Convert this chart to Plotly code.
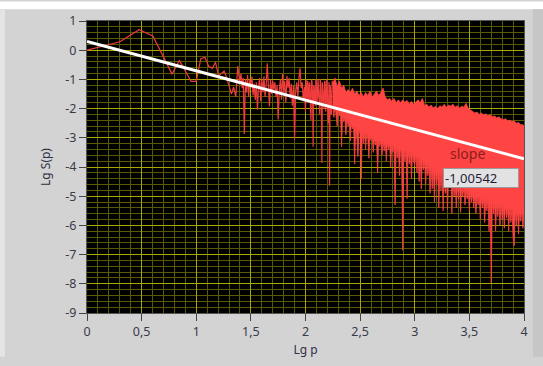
import plotly.graph_objects as go

# ---------------- data ----------------
# noisy spectrum, low / mid frequency part drawn as a line (lg p, lg S)
line_pts = [
    (0.000, 0.00), (0.301, 0.29), (0.477, 0.70), (0.602, 0.49), (0.699, -0.22),
    (0.778, -0.82), (0.845, -0.35), (0.903, -0.73), (0.954, -1.07), (1.000, -1.07),
    (1.041, -0.30), (1.079, -0.24), (1.114, -0.55), (1.146, -0.62), (1.176, -0.41),
    (1.204, -0.88), (1.230, -0.78), (1.255, -0.71), (1.279, -0.95), (1.301, -1.21),
    (1.322, -1.50), (1.342, -1.26), (1.362, -1.60), (1.380, -0.54), (1.398, -1.10),
    (1.41, -0.80), (1.42, -1.30), (1.43, -0.95), (1.44, -2.87), (1.45, -1.00),
    (1.46, -1.45), (1.47, -0.85), (1.48, -1.60), (1.49, -1.00), (1.50, -1.20),
    (1.51, -0.90), (1.52, -1.55), (1.53, -1.15), (1.54, -1.70), (1.55, -1.10),
    (1.56, -2.04), (1.57, -1.30), (1.58, -0.95), (1.59, -1.75), (1.60, -1.00),
    (1.61, -1.45), (1.62, -0.90), (1.63, -1.60), (1.64, -1.20), (1.65, -0.45),
    (1.66, -1.30), (1.67, -1.93), (1.68, -1.00), (1.69, -1.50), (1.70, -1.05),
    (1.71, -1.35), (1.72, -1.10), (1.73, -1.60), (1.74, -1.20), (1.75, -2.37),
    (1.76, -1.40), (1.77, -1.00), (1.78, -1.70), (1.79, -0.80), (1.80, -1.45),
    (1.81, -1.05), (1.82, -1.80), (1.83, -0.88), (1.84, -1.30), (1.85, -0.95),
    (1.86, -1.65), (1.87, -1.15), (1.88, -1.90), (1.89, -1.20), (1.90, -3.03),
    (1.91, -1.40), (1.92, -1.10), (1.93, -1.60), (1.94, -0.95), (1.95, -0.62),
    (1.96, -1.30), (1.97, -1.10), (1.98, -1.75), (1.99, -1.25), (2.00, -2.10),
    (2.005, -1.00), (2.01, -1.30), (2.015, -1.70), (2.02, -1.05), (2.025, -1.50),
    (2.03, -1.80), (2.035, -1.10), (2.04, -1.20), (2.045, -1.90), (2.05, -2.40),
    (2.055, -1.00), (2.06, -1.10), (2.065, -1.60), (2.07, -3.31), (2.075, -1.20),
    (2.08, -1.25), (2.085, -1.70), (2.09, -1.90), (2.095, -1.00), (2.10, -1.05),
    (2.105, -1.80), (2.11, -1.60), (2.115, -1.00), (2.12, -1.30), (2.125, -2.00),
    (2.13, -2.20), (2.135, -0.99), (2.14, -1.15), (2.145, -1.90), (2.15, -3.86),
    (2.155, -1.10), (2.16, -1.40), (2.165, -1.80), (2.17, -2.00), (2.175, -1.05),
    (2.18, -1.10), (2.185, -2.10), (2.19, -1.80), (2.195, -1.00), (2.20, -1.35),
    (2.205, -2.30), (2.21, -2.50), (2.215, -1.10), (2.22, -4.64), (2.225, -1.20),
    (2.23, -1.30), (2.235, -2.20), (2.24, -2.10), (2.245, -1.05), (2.25, -1.20),
]

# dense high-frequency part: upper envelope of the noise
upper_pts = [
    (2.25, -1.15), (2.27, -0.95), (2.29, -1.25), (2.31, -1.05), (2.33, -1.30),
    (2.35, -1.20), (2.37, -1.45), (2.39, -1.35), (2.41, -1.45), (2.43, -1.30),
    (2.45, -1.50), (2.47, -1.40), (2.49, -1.55), (2.51, -1.45), (2.53, -1.60),
    (2.55, -1.45), (2.57, -1.55), (2.59, -1.40), (2.61, -1.60), (2.63, -1.50),
    (2.65, -1.40), (2.67, -1.55), (2.69, -1.45), (2.71, -1.30), (2.73, -1.60),
    (2.75, -1.70), (2.77, -1.65), (2.79, -1.75), (2.81, -1.65), (2.83, -1.80),
    (2.85, -1.70), (2.87, -1.80), (2.89, -1.70), (2.91, -1.78), (2.93, -1.72),
    (2.95, -1.85), (2.97, -1.75), (2.99, -1.85), (3.01, -1.78), (3.03, -1.70),
    (3.05, -1.80), (3.07, -1.65), (3.09, -1.90), (3.11, -1.85), (3.13, -1.95),
    (3.15, -1.88), (3.17, -1.98), (3.19, -1.92), (3.21, -2.00), (3.23, -1.90),
    (3.25, -1.95), (3.27, -1.85), (3.29, -1.95), (3.31, -1.88), (3.33, -1.92),
    (3.35, -1.85), (3.37, -1.95), (3.39, -1.90), (3.41, -1.98), (3.43, -1.92),
    (3.45, -1.95), (3.47, -1.82), (3.49, -2.00), (3.51, -2.05), (3.53, -2.10),
    (3.55, -2.15), (3.57, -2.12), (3.59, -2.20), (3.61, -2.15), (3.63, -2.22),
    (3.65, -2.18), (3.67, -2.25), (3.69, -2.20), (3.71, -2.28), (3.73, -2.25),
    (3.75, -2.32), (3.77, -2.28), (3.79, -2.35), (3.81, -2.38), (3.83, -2.35),
    (3.85, -2.42), (3.87, -2.40), (3.89, -2.45), (3.91, -2.42), (3.93, -2.50),
    (3.95, -2.48), (3.97, -2.55), (3.99, -2.55), (4.00, -2.60),
]

# dense high-frequency part: lower envelope of the noise (with the dips)
lower_pts = [
    (2.25, -1.85), (2.26, -2.30), (2.27, -1.90), (2.28, -2.10), (2.29, -2.60),
    (2.30, -2.00), (2.31, -2.25), (2.32, -2.10), (2.33, -3.31), (2.34, -2.20),
    (2.35, -2.45), (2.36, -2.30), (2.37, -2.90), (2.38, -2.35), (2.39, -2.60),
    (2.40, -2.40), (2.41, -3.10), (2.42, -2.50), (2.43, -2.70), (2.44, -2.55),
    (2.45, -3.90), (2.46, -2.60), (2.47, -3.00), (2.48, -3.64), (2.49, -2.70),
    (2.50, -2.90), (2.51, -4.41), (2.52, -2.75), (2.53, -3.20), (2.54, -2.80),
    (2.55, -3.40), (2.56, -2.85), (2.57, -3.00), (2.58, -3.70), (2.59, -2.90),
    (2.60, -3.10), (2.61, -2.95), (2.62, -3.50), (2.63, -3.00), (2.64, -3.25),
    (2.65, -3.05), (2.66, -4.20), (2.67, -3.05), (2.68, -3.30), (2.69, -3.10),
    (2.70, -3.60), (2.71, -3.10), (2.72, -3.45), (2.73, -3.15), (2.74, -3.80),
    (2.75, -3.15), (2.76, -3.40), (2.77, -3.20), (2.78, -4.00), (2.79, -3.20),
    (2.80, -3.50), (2.81, -3.25), (2.82, -5.30), (2.83, -3.25), (2.84, -3.70),
    (2.85, -3.30), (2.86, -4.30), (2.87, -3.30), (2.88, -3.60), (2.89, -6.85),
    (2.90, -3.35), (2.91, -3.80), (2.92, -3.40), (2.93, -5.08), (2.94, -3.40),
    (2.95, -3.90), (2.96, -3.45), (2.97, -4.40), (2.98, -3.50), (2.99, -3.80),
    (3.00, -3.97), (3.01, -3.55), (3.02, -4.20), (3.03, -3.60), (3.04, -4.50),
    (3.05, -3.65), (3.06, -4.75), (3.07, -3.70), (3.08, -4.10), (3.09, -3.80),
    (3.10, -4.60), (3.11, -3.85), (3.12, -4.30), (3.13, -3.90), (3.14, -4.90),
    (3.15, -3.95), (3.16, -4.75), (3.17, -4.00), (3.18, -5.20), (3.19, -4.05),
    (3.20, -4.60), (3.21, -4.10), (3.22, -5.40), (3.23, -4.15), (3.24, -4.80),
    (3.25, -4.20), (3.26, -5.50), (3.27, -4.25), (3.28, -4.90), (3.29, -4.30),
    (3.30, -5.45), (3.31, -4.35), (3.32, -4.70), (3.33, -4.40), (3.34, -5.60),
    (3.35, -4.45), (3.36, -5.00), (3.37, -4.50), (3.38, -5.40), (3.39, -4.55),
    (3.40, -5.10), (3.41, -4.60), (3.42, -5.55), (3.43, -4.65), (3.44, -5.00),
    (3.45, -4.70), (3.46, -5.30), (3.47, -4.75), (3.48, -5.10), (3.49, -4.80),
    (3.50, -5.50), (3.51, -4.85), (3.52, -5.20), (3.53, -4.90), (3.54, -5.40),
    (3.55, -4.95), (3.56, -5.60), (3.57, -5.00), (3.58, -5.30), (3.59, -5.00),
    (3.60, -5.80), (3.61, -5.05), (3.62, -5.40), (3.63, -5.05), (3.64, -5.90),
    (3.65, -5.10), (3.66, -5.50), (3.67, -5.10), (3.68, -6.20), (3.69, -5.15),
    (3.70, -7.96), (3.71, -5.15), (3.72, -5.60), (3.73, -5.20), (3.74, -6.19),
    (3.75, -5.20), (3.76, -5.70), (3.77, -5.25), (3.78, -6.00), (3.79, -5.25),
    (3.80, -5.80), (3.81, -5.30), (3.82, -6.10), (3.83, -5.30), (3.84, -5.75),
    (3.85, -5.35), (3.86, -6.20), (3.87, -5.35), (3.88, -5.90), (3.89, -5.40),
    (3.90, -6.40), (3.91, -6.70), (3.92, -5.45), (3.93, -6.00), (3.94, -5.45),
    (3.95, -6.30), (3.96, -5.50), (3.97, -5.86), (3.98, -5.50), (3.99, -6.10),
    (4.00, -5.55),
]

# linear fit
fit_x = [0.0, 4.0]
fit_y = [0.30, -3.72]
slope_value = "-1,00542"

x_tickvals = [0, 0.5, 1, 1.5, 2, 2.5, 3, 3.5, 4]
x_ticktext = ["0", "0,5", "1", "1,5", "2", "2,5", "3", "3,5", "4"]
y_tickvals = [1, 0, -1, -2, -3, -4, -5, -6, -7, -8, -9]
y_ticktext = ["1", "0", "-1", "-2", "-3", "-4", "-5", "-6", "-7", "-8", "-9"]

# ---------------- figure ----------------
W, H = 543, 366
ML, MR, MT, MB = 87, 19, 20, 45
PW, PH = W - ML - MR, H - MT - MB


def fx(px):
    return (px - ML) / PW


def fy(py):
    return (H - MB - py) / PH


RED = "#ff4444"
fig = go.Figure()

lx = [p[0] for p in line_pts]
ly = [p[1] for p in line_pts]
fig.add_trace(go.Scatter(x=lx, y=ly, mode="lines",
                         line=dict(color="#f03c3c", width=1.2),
                         hoverinfo="skip", showlegend=False))

ux = [p[0] for p in upper_pts]
uy = [p[1] for p in upper_pts]
bx = [p[0] for p in lower_pts]
by = [p[1] for p in lower_pts]
fig.add_trace(go.Scatter(x=ux + bx[::-1], y=uy + by[::-1], mode="lines",
                         fill="toself", fillcolor=RED,
                         line=dict(color=RED, width=0.8),
                         hoverinfo="skip", showlegend=False))

fig.add_trace(go.Scatter(x=fit_x, y=fit_y, mode="lines",
                         line=dict(color="#ffffff", width=3),
                         hoverinfo="skip", showlegend=False))

tick_font = dict(family="Noto Sans, Open Sans, sans-serif", size=12.5, color="#3a3a48")

fig.update_layout(
    width=W, height=H,
    margin=dict(l=ML, r=MR, t=MT, b=MB, pad=0),
    paper_bgcolor="#d3d3d3",
    plot_bgcolor="#000000",
    font=tick_font,
    xaxis=dict(
        range=[0, 4], tickmode="array", tickvals=x_tickvals, ticktext=x_ticktext,
        ticks="outside", ticklen=7, tickcolor="#444444", tickwidth=1,
        showgrid=True, gridcolor="#a8a800", gridwidth=1,
        minor=dict(tickmode="linear", tick0=0, dtick=0.1, showgrid=True,
                   gridcolor="#5a5a00", gridwidth=1, ticks=""),
        zeroline=False, showline=True, linecolor="#555555", mirror=True,
        title=dict(text="Lg p", font=dict(size=12, color="#303048"), standoff=6),
        tickfont=tick_font,
    ),
    yaxis=dict(
        range=[-9, 1], tickmode="array", tickvals=y_tickvals, ticktext=y_ticktext,
        ticks="outside", ticklen=7, tickcolor="#444444", tickwidth=1,
        showgrid=True, gridcolor="#a8a800", gridwidth=1,
        minor=dict(tickmode="linear", tick0=0, dtick=0.2, showgrid=True,
                   gridcolor="#5a5a00", gridwidth=1, ticks=""),
        zeroline=False, showline=True, linecolor="#555555", mirror=True,
        title=dict(text="Lg S(p)", font=dict(size=12, color="#303048"), standoff=12),
        tickfont=tick_font,
    ),
    shapes=[
        dict(type="rect", xref="paper", yref="paper", layer="below",
             x0=fx(0), x1=fx(W), y0=fy(8), y1=fy(0),
             fillcolor="#ffffff", line=dict(width=0)),
        dict(type="rect", xref="paper", yref="paper", layer="below",
             x0=fx(0), x1=fx(5), y0=fy(H), y1=fy(8),
             fillcolor="#e4e4e4", line=dict(width=0)),
        dict(type="rect", xref="paper", yref="paper", layer="below",
             x0=fx(533), x1=fx(W), y0=fy(H), y1=fy(8),
             fillcolor="#c6c6c6", line=dict(width=0)),
    ],
    annotations=[
        dict(x=3.48, y=-3.54, xref="x", yref="y", text="slope", showarrow=False,
             font=dict(family="Noto Sans, sans-serif", size=14, color="#8a2020")),
        dict(x=3.61, y=-4.37, xref="x", yref="y", text=slope_value, showarrow=False,
             width=72, height=16, align="left",
             bgcolor="#e2e2e2", bordercolor="#9a9a9a", borderwidth=1, borderpad=1,
             font=dict(family="Noto Sans, sans-serif", size=13, color="#1e1e3a")),
    ],
)

fig.write_html("out.html", config={"displayModeBar": False},
               post_script="document.body.style.margin='0';")
